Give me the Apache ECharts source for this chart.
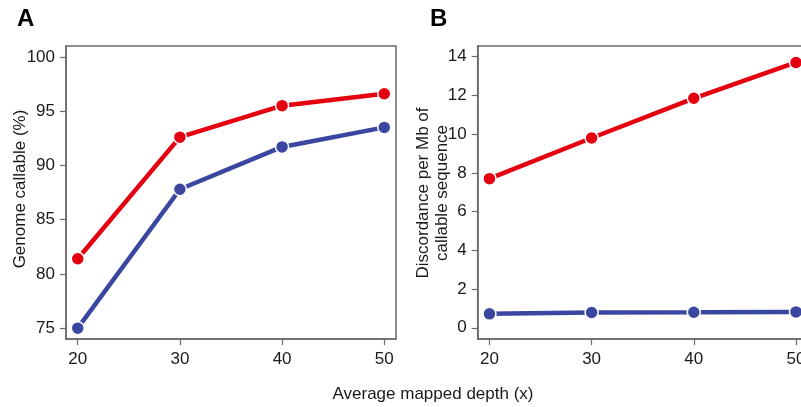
<!DOCTYPE html>
<html>
<head>
<meta charset="utf-8">
<script src="https://cdn.jsdelivr.net/npm/echarts@6/dist/echarts.min.js"></script>
<style>
html,body{margin:0;padding:0;background:#fff;}
#chart{width:801px;height:407px;}
</style>
</head>
<body>
<div id="chart"></div>
<script>
// Data
var depth = [20, 30, 40, 50];
var xTicks = [20, 30, 40, 50];
var callableRed = [81.4, 92.6, 95.5, 96.6];
var callableBlue = [75.0, 87.8, 91.7, 93.5];
var yTicksA = [75, 80, 85, 90, 95, 100];
var discRed = [7.7, 9.8, 11.85, 13.7];
var discBlue = [0.72, 0.79, 0.80, 0.82];
var yTicksB = [0, 2, 4, 6, 8, 10, 12, 14];

var RED = '#e5000f';
var BLUE = '#3a46a0';
var FONT = '"Liberation Sans", Arial, Helvetica, sans-serif';
var AXC = '#6a6a6a';

function pairs(xs, ys) { return xs.map(function (x, i) { return [x, ys[i]]; }); }

function xAxisDef(gi) {
  return {
    type: 'value', gridIndex: gi, min: 18.85, max: 51.15,
    splitLine: { show: false },
    axisLine: { show: true, onZero: false, lineStyle: { color: AXC, width: 1.5 } },
    axisTick: { show: true, length: 6, lineStyle: { color: AXC, width: 1.2 }, customValues: xTicks },
    axisLabel: { show: true, margin: 12, fontSize: 17, color: '#1a1a1a', fontFamily: FONT, customValues: xTicks, formatter: function (v) { return String(v); } }
  };
}
function yAxisDef(gi, mn, mx, ticks) {
  return {
    type: 'value', gridIndex: gi, min: mn, max: mx,
    splitLine: { show: false },
    axisLine: { show: true, onZero: false, lineStyle: { color: AXC, width: 1.5 } },
    axisTick: { show: true, length: 6, lineStyle: { color: AXC, width: 1.2 }, customValues: ticks },
    axisLabel: { show: true, margin: 11, fontSize: 17, color: '#1a1a1a', fontFamily: FONT, customValues: ticks, formatter: function (v) { return String(v); } }
  };
}
function lineSeries(name, gi, data, color) {
  return {
    name: name, type: 'line', xAxisIndex: gi, yAxisIndex: gi,
    data: data, symbol: 'circle', symbolSize: 13,
    lineStyle: { color: color, width: 4.5 },
    itemStyle: { color: color, borderColor: '#ffffff', borderWidth: 1.5 },
    emphasis: { disabled: true }, clip: false
  };
}

var chart = echarts.init(document.getElementById('chart'), null, { renderer: 'canvas' });
chart.setOption({
  animation: false,
  backgroundColor: '#ffffff',
  grid: [
    { left: 66, top: 46, width: 330, height: 293, show: true, borderColor: AXC, borderWidth: 1.5, backgroundColor: 'transparent', containLabel: false, outerBoundsMode: 'none' },
    { left: 477.7, top: 46, width: 330, height: 293, show: true, borderColor: AXC, borderWidth: 1.5, backgroundColor: 'transparent', containLabel: false, outerBoundsMode: 'none' }
  ],
  xAxis: [xAxisDef(0), xAxisDef(1)],
  yAxis: [yAxisDef(0, 74, 101, yTicksA), yAxisDef(1, -0.58, 14.55, yTicksB)],
  series: [
    lineSeries('Red A', 0, pairs(depth, callableRed), RED),
    lineSeries('Blue A', 0, pairs(depth, callableBlue), BLUE),
    lineSeries('Red B', 1, pairs(depth, discRed), RED),
    lineSeries('Blue B', 1, pairs(depth, discBlue), BLUE)
  ],
  graphic: [
    { type: 'text', x: 17, y: 19, style: { text: 'A', fontSize: 24, fontWeight: 'bold', fontFamily: FONT, fill: '#000', align: 'left', verticalAlign: 'middle' } },
    { type: 'text', x: 430, y: 19, style: { text: 'B', fontSize: 24, fontWeight: 'bold', fontFamily: FONT, fill: '#000', align: 'left', verticalAlign: 'middle' } },
    { type: 'text', x: 20, y: 189, rotation: Math.PI / 2, style: { text: 'Genome callable (%)', fontSize: 17, fontFamily: FONT, fill: '#1a1a1a', align: 'center', verticalAlign: 'middle' } },
    { type: 'text', x: 433, y: 193, rotation: Math.PI / 2, style: { text: 'Discordance per Mb of\ncallable sequence', fontSize: 17, lineHeight: 19, fontFamily: FONT, fill: '#1a1a1a', align: 'center', verticalAlign: 'middle' } },
    { type: 'text', x: 433, y: 394, style: { text: 'Average mapped depth (x)', fontSize: 17, fontFamily: FONT, fill: '#1a1a1a', align: 'center', verticalAlign: 'middle' } }
  ]
});
</script>
</body>
</html>
